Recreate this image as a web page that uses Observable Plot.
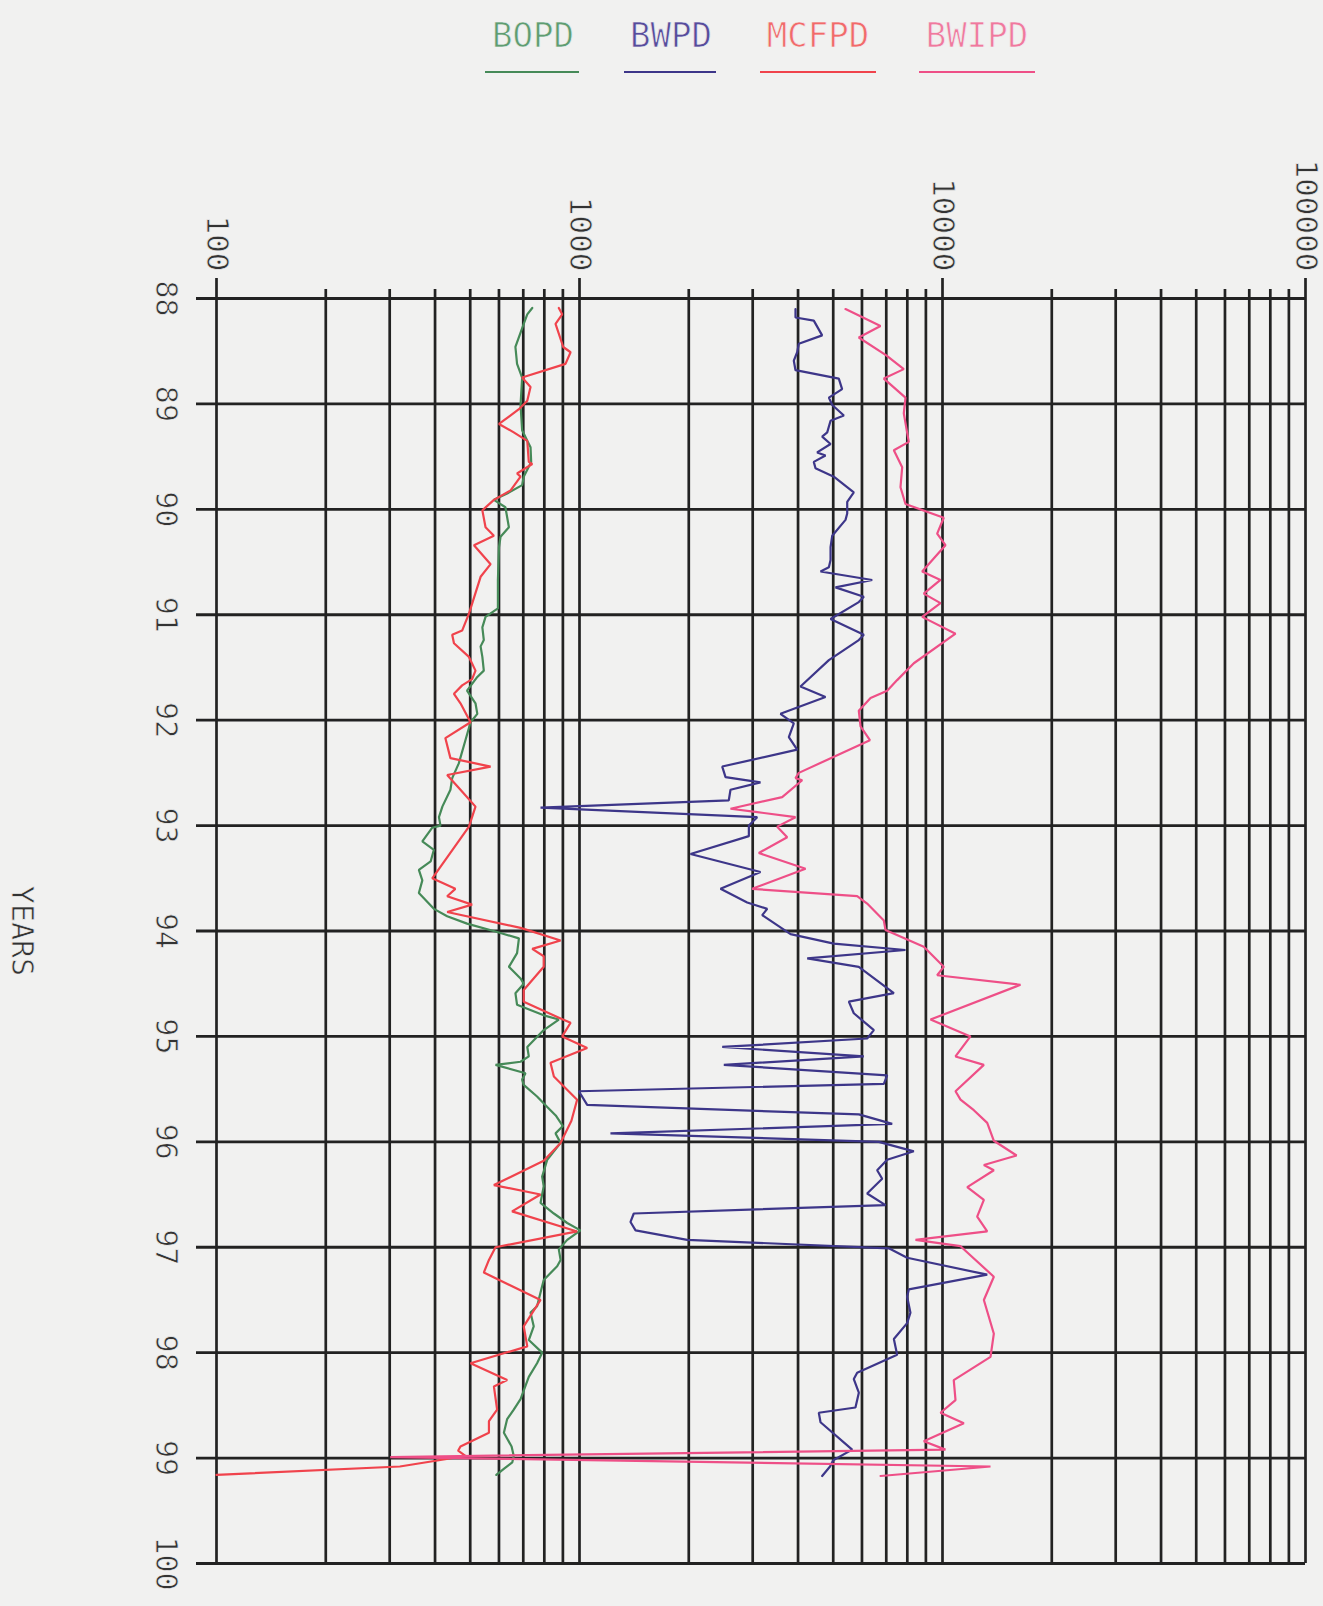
<!DOCTYPE html>
<html>
<head>
<meta charset="utf-8">
<script src="https://cdn.jsdelivr.net/npm/d3@7"></script>
<script src="https://cdn.jsdelivr.net/npm/@observablehq/plot@0.6"></script>
<style>
  html, body { margin: 0; padding: 0; background: #f1f1f0; }
  body { width: 1323px; height: 1606px; overflow: hidden; position: relative; font-family: "DejaVu Sans Mono", monospace; }
  #legend { position: relative; height: 100px; }
  .lg-text { position: absolute; top: 18px; font-size: 34px; line-height: 34px; white-space: nowrap; transform: translateX(-50%); -webkit-text-stroke: 0.7px #f1f1f0; }
  .lg-line { position: absolute; top: 71px; height: 2px; }
  #chart { position: absolute; left: 0; top: 100px; }
</style>
</head>
<body>
<div id="legend"></div>
<div id="chart"></div>
<script>
// ---------- data (year, value) ----------
const seriesNames = ["BOPD", "BWPD", "MCFPD", "BWIPD"];

const bopd = [
  [88.09,741],[88.15,718],[88.24,702],[88.46,666],[88.62,673],[88.75,695],[89.01,688],[89.25,695],
  [89.35,718],[89.41,733],[89.55,736],[89.69,702],[89.77,695],[89.85,632],[89.91,581],[89.98,625],
  [90.17,639],[90.26,606],[90.36,600],[90.67,596],[90.94,596],[91.02,551],[91.12,540],[91.24,545],
  [91.3,534],[91.4,540],[91.53,545],[91.59,523],[91.72,490],[91.84,517],[91.94,523],[92.02,501],
  [92.19,485],[92.41,465],[92.55,446],[92.66,441],[92.82,419],[92.92,410],[93.0,414],[93.02,393],
  [93.15,369],[93.23,397],[93.34,389],[93.42,361],[93.52,369],[93.64,361],[93.79,397],[93.86,432],
  [93.93,490],[94.01,593],[94.07,681],[94.21,673],[94.34,639],[94.45,688],[94.5,702],[94.59,666],
  [94.7,673],[94.8,797],[94.84,877],[94.94,797],[95.1,718],[95.19,725],[95.24,688],[95.27,587],
  [95.35,710],[95.41,695],[95.46,702],[95.57,764],[95.67,815],[95.75,860],[95.85,900],[95.92,859],
  [96.01,887],[96.17,815],[96.33,789],[96.42,797],[96.58,781],[96.68,850],[96.77,925],[96.84,1006],
  [96.93,925],[97.02,877],[97.12,887],[97.18,868],[97.31,797],[97.43,781],[97.56,764],[97.62,733],
  [97.75,748],[97.88,725],[98.0,789],[98.1,764],[98.23,725],[98.44,688],[98.54,659],[98.63,632],
  [98.76,619],[98.89,650],[98.98,659],[99.04,653],[99.1,620],[99.16,590]
];

const bwpd = [
  [88.1,3936],[88.18,3936],[88.21,4420],[88.35,4661],[88.43,4020],[88.51,3978],[88.59,3894],[88.68,3936],
  [88.76,5180],[88.86,5290],[88.94,4864],[89.01,4969],[89.11,5349],[89.16,4916],[89.27,4813],[89.31,4661],
  [89.38,4916],[89.46,4515],[89.49,4761],[89.55,4420],[89.61,4468],[89.69,5018],[89.84,5697],[89.93,5464],
  [90.04,5464],[90.1,5405],[90.25,4969],[90.36,4916],[90.48,4916],[90.55,4864],[90.59,4613],[90.67,6403],
  [90.74,5072],[90.83,6071],[90.88,5880],[91.04,4916],[91.19,6071],[91.24,5880],[91.43,4864],[91.68,4062],
  [91.78,4761],[91.94,3578],[92.03,3894],[92.16,3773],[92.28,3978],[92.44,2473],[92.54,2525],[92.59,3152],
  [92.66,2606],[92.76,2578],[92.83,781],[92.92,3087],[93.0,2928],[93.1,2928],[93.27,2022],[93.44,3152],
  [93.6,2446],[93.73,2897],[93.79,3289],[93.85,3187],[94.03,3814],[94.12,5018],[94.18,7907],[94.26,4240],
  [94.34,5880],[94.59,7345],[94.67,5521],[94.78,5697],[94.94,6470],[95.02,6200],[95.1,2473],[95.19,6071],
  [95.27,2498],[95.37,7040],[95.45,6893],[95.52,996],[95.65,1050],[95.74,5882],[95.83,7268],[95.92,1217],
  [96.0,6676],[96.09,8337],[96.17,7040],[96.27,6607],[96.35,6821],[96.49,6200],[96.6,6966],[96.68,1411],
  [96.76,1382],[96.84,1427],[96.93,1980],[97.01,7115],[97.1,7990],[97.26,13280],[97.4,8075],[97.47,7990],
  [97.62,8160],[97.72,7990],[97.87,7345],[98.02,7500],[98.19,5820],[98.25,5697],[98.38,5882],[98.52,5757],
  [98.57,4563],[98.66,4613],[98.92,5638],[99.02,5000],[99.08,4900],[99.17,4661]
];

const mcfpd = [
  [88.09,877],[88.15,896],[88.24,859],[88.46,902],[88.51,945],[88.62,915],[88.75,695],[88.84,733],
  [88.97,718],[89.05,681],[89.19,600],[89.27,659],[89.35,718],[89.55,725],[89.57,741],[89.66,673],
  [89.69,688],[89.82,646],[89.91,581],[90.01,540],[90.17,551],[90.25,581],[90.34,512],[90.52,569],
  [90.64,534],[90.99,496],[91.15,475],[91.19,446],[91.27,451],[91.4,496],[91.53,517],[91.61,506],
  [91.67,475],[91.75,451],[91.84,470],[92.02,501],[92.17,427],[92.36,441],[92.44,569],[92.52,432],
  [92.66,470],[92.82,517],[93.01,496],[93.5,393],[93.6,455],[93.67,432],[93.75,506],[93.82,432],
  [93.97,688],[94.09,887],[94.17,741],[94.24,797],[94.34,797],[94.56,702],[94.67,702],[94.83,887],
  [94.87,945],[95.0,896],[95.11,1050],[95.25,832],[95.38,850],[95.6,985],[95.8,950],[96.01,887],
  [96.18,797],[96.41,581],[96.5,781],[96.66,652],[96.85,985],[97.0,587],[97.12,563],[97.24,545],
  [97.5,781],[97.75,702],[97.94,718],[98.1,501],[98.26,632],[98.32,581],[98.54,593],[98.65,563],
  [98.76,563],[98.89,470],[98.93,463],[98.98,485],[99.08,320],[99.16,100]
];

const bwipd = [
  [88.1,5405],[88.26,6748],[88.37,5880],[88.54,7000],[88.67,7823],[88.76,6893],[88.94,7907],[89.09,7823],
  [89.36,8074],[89.44,7345],[89.6,7744],[89.79,7661],[89.95,7907],[90.08,10080],[90.23,9667],[90.34,10190],
  [90.59,8790],[90.67,9874],[90.8,8880],[90.89,9874],[91.02,8790],[91.18,10860],[91.46,8337],[91.62,7500],
  [91.72,7040],[91.79,6335],[91.91,5880],[92.06,5946],[92.19,6310],[92.5,4020],[92.55,3936],[92.57,4107],
  [92.73,3617],[92.84,2606],[92.87,3053],[92.92,3936],[93.01,3505],[93.11,3734],[93.26,3119],[93.41,4195],
  [93.6,2990],[93.67,5820],[93.74,6200],[93.9,6893],[93.99,6966],[94.15,8880],[94.34,10080],[94.42,9667],
  [94.51,16400],[94.84,9268],[95.0,11940],[95.19,10860],[95.27,13000],[95.52,10860],[95.6,11210],[95.7,12200],
  [95.82,13280],[95.99,13850],[96.13,16000],[96.22,13000],[96.27,13850],[96.43,11700],[96.55,13000],[96.71,12460],
  [96.85,13280],[96.93,8425],[96.99,11210],[97.28,13850],[97.5,13000],[97.82,13850],[98.04,13560],[98.26,10740],
  [98.45,10860],[98.57,9874],[98.67,11450],[98.84,8880],[98.92,10190],[98.99,301],[99.08,13560],[99.17,6750]
];

// ---------- axes ----------
const xMajorTicks = [100, 1000, 10000, 100000];
const xTickLabels = ["100", "1000", "10000", "100000"];
const yearTicks = [88, 89, 90, 91, 92, 93, 94, 95, 96, 97, 98, 99, 100];
const yearLabels = ["88", "89", "90", "91", "92", "93", "94", "95", "96", "97", "98", "99", "100"];
const yTitle = "YEARS";

// minor log gridlines (2..9 within each decade)
const xMinorTicks = [];
for (const d of [100, 1000, 10000]) for (let k = 2; k <= 9; k++) xMinorTicks.push(k * d);

// ---------- styles ----------
const colors = {BOPD: "#468a58", BWPD: "#3d3689", MCFPD: "#f0434c", BWIPD: "#ee4f87"};
const legendTextColors = {BOPD: "#5f9d72", BWPD: "#574c9c", MCFPD: "#f26a6a", BWIPD: "#f0799e"};
const legendLayout = {BOPD: [533, 485, 94], BWPD: [671, 624, 92], MCFPD: [818, 760, 116], BWIPD: [977, 919, 116]};
const gridColor = "#222222";
const bg = "#f1f1f0";

// legend
const legend = document.getElementById("legend");
for (const name of seriesNames) {
  const [cx, lx, lw] = legendLayout[name];
  const t = document.createElement("div");
  t.className = "lg-text";
  t.style.left = cx + "px";
  t.style.color = legendTextColors[name];
  t.textContent = name;
  legend.appendChild(t);
  const l = document.createElement("div");
  l.className = "lg-line";
  l.style.left = lx + "px";
  l.style.width = lw + "px";
  l.style.background = colors[name];
  legend.appendChild(l);
}

const toRows = (arr) => arr.map(([year, value]) => ({year, value}));
const seriesData = {BOPD: toRows(bopd), BWPD: toRows(bwpd), MCFPD: toRows(mcfpd), BWIPD: toRows(bwipd)};

const textStyle = {fill: "#333", fontSize: 31, fontFamily: "DejaVu Sans Mono", stroke: bg, strokeWidth: 0.7};

const chart = Plot.plot({
  width: 1323,
  height: 1506,
  marginTop: 198,
  marginBottom: 43,
  marginLeft: 216,
  marginRight: 18,
  style: {background: "transparent", overflow: "visible"},
  x: {type: "log", domain: [100, 100000], axis: null},
  y: {domain: [88, 100], reverse: true, axis: null},
  marks: [
    Plot.ruleX(xMinorTicks, {x: d => d, stroke: gridColor, strokeWidth: 2.7, insetTop: -9}),
    Plot.ruleX(xMajorTicks, {x: d => d, stroke: gridColor, strokeWidth: 2.7, insetTop: -20}),
    Plot.ruleY(yearTicks, {y: d => d, stroke: gridColor, strokeWidth: 2.9, insetLeft: -20}),
    Plot.text(xMajorTicks, {x: d => d, text: (d, i) => xTickLabels[i], frameAnchor: "top", dy: -27,
      rotate: 90, textAnchor: "end", lineAnchor: "middle", ...textStyle}),
    Plot.text(yearTicks, {y: d => d, text: (d, i) => yearLabels[i], frameAnchor: "left", dx: -51,
      rotate: 90, textAnchor: "middle", lineAnchor: "middle", ...textStyle, fontSize: 30}),
    Plot.text([yTitle], {text: d => d, frameAnchor: "left", dx: -195, rotate: 90,
      textAnchor: "middle", lineAnchor: "middle", ...textStyle, fontSize: 30}),
    ...seriesNames.map(name => Plot.line(seriesData[name], {
      x: "value", y: "year", stroke: colors[name], strokeWidth: 2.2, strokeLinejoin: "miter"
    }))
  ]
});

// draw background-coloured outlines on top of the glyphs to make thin plotter-like strokes
d3.select(chart).selectAll("text").attr("paint-order", "normal");
document.getElementById("chart").appendChild(chart);
</script>
</body>
</html>
